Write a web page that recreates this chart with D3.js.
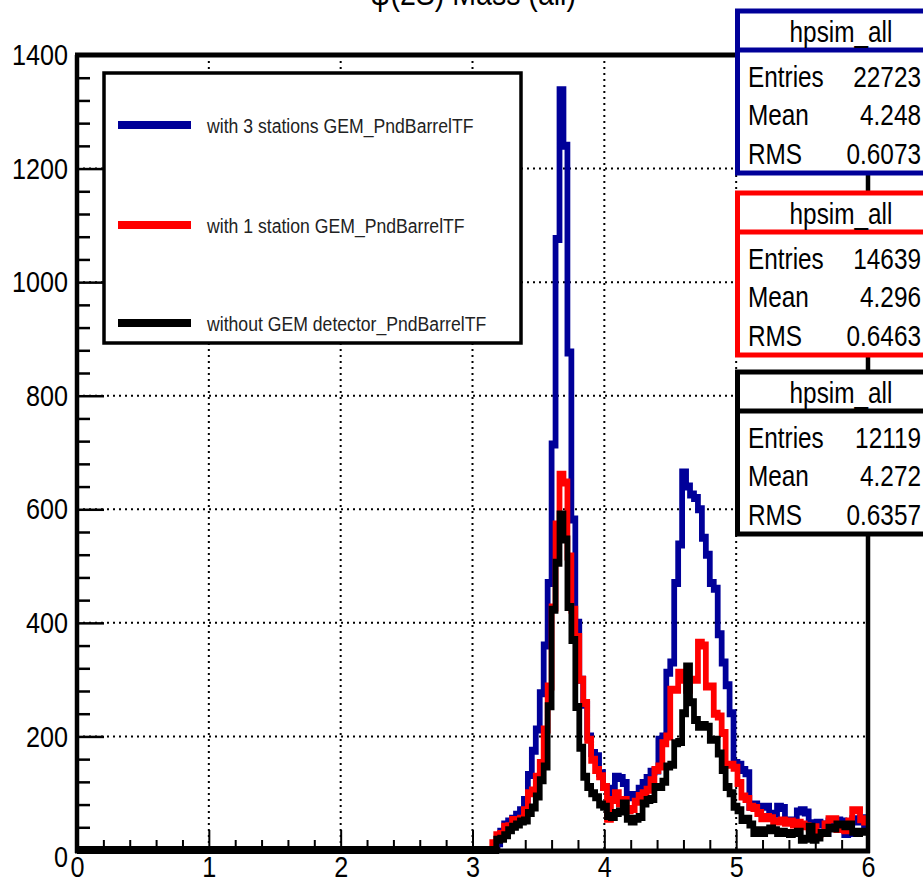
<!DOCTYPE html>
<html>
<head>
<meta charset="utf-8">
<script src="https://cdn.jsdelivr.net/npm/d3@7"></script>
<style>
  body { margin: 0; background: #ffffff; }
  svg { display: block; font-family: "Liberation Sans", Arial, sans-serif; }
</style>
</head>
<body>
<svg id="svgMass"></svg>
<script>
/////////////////////////////////////////////////////////////////////////////////////////

var WIDTH = 923, HEIGHT = 886;
var FRAME_LEFT = 77, FRAME_RIGHT = 868, FRAME_TOP = 55, FRAME_BOTTOM = 850;
var TEXT_SX = 0.84;   // the picture is squeezed sideways, so are the glyphs
var HIST_SX = 0.72;   // vertical strokes thinner than horizontal ones

// DATA /////////////////////////////////////////////////////////////////////////////////

var binWidth = 0.03;
var firstBinLow = 3.15;   // every bin below this is empty
var xTicks = [0, 1, 2, 3, 4, 5, 6];
var yTicks = [0, 200, 400, 600, 800, 1000, 1200, 1400];

// bins from 3.15 to 5.97, width 0.03
var blueCounts = [
  0, 12, 32, 45, 50, 55, 62, 70, 88, 132, 175, 212, 276, 360, 470,
  714, 1076, 1338, 1240, 876, 582, 400, 300, 256, 200,
  171, 165, 135, 111, 108, 100, 129, 127, 118, 93,
  97, 95, 108, 118, 127, 138, 140, 194, 200, 312,
  330, 470, 538, 665, 640, 626, 620, 600, 550, 520,
  470, 460, 380, 330, 290, 241, 153, 150, 141, 135,
  76, 80, 74, 76, 76, 62, 64, 76, 74, 50,
  52, 48, 68, 70, 66, 47, 45, 48, 45, 30,
  50, 48, 52, 50, 28, 30, 54, 50, 56, 45
];
var redCounts = [
  12, 26, 28, 41, 42, 53, 53, 55, 70, 100, 105, 129, 153, 212, 288,
  427, 573, 661, 647, 517, 423, 375, 300, 259, 194,
  159, 141, 130, 111, 55, 88, 100, 82, 88, 70,
  72, 85, 95, 100, 106, 123, 141, 147, 188, 200,
  282, 282, 312, 300, 282, 300, 300, 365, 360, 288,
  288, 240, 235, 206, 150, 150, 145, 118, 94, 90,
  76, 74, 65, 56, 58, 56, 50, 50, 52, 48,
  50, 45, 48, 45, 42, 39, 40, 28, 30, 45,
  54, 54, 37, 38, 35, 50, 70, 70, 54, 50
];
var blackCounts = [
  0, 18, 20, 26, 35, 41, 45, 50, 52, 65, 75, 94, 123, 147, 253,
  423, 506, 591, 547, 428, 370, 252, 180, 129, 111,
  100, 93, 80, 76, 60, 58, 65, 68, 82, 55,
  50, 55, 58, 82, 88, 90, 111, 111, 120, 147,
  150, 188, 190, 241, 323, 260, 229, 217, 220, 217,
  194, 194, 170, 141, 111, 100, 76, 70, 53, 55,
  45, 30, 35, 30, 35, 38, 35, 30, 32, 30,
  28, 30, 32, 18, 20, 41, 18, 22, 30, 30,
  39, 38, 45, 45, 42, 45, 32, 30, 32, 32
];

var seriesColours = ["#000099", "#ff0000", "#000000"];
var legendLabels = ["with 3 stations GEM_PndBarrelTF", "with 1 station GEM_PndBarrelTF", "without GEM detector_PndBarrelTF"];
var statsName = "hpsim_all";
var statsEntries = ["22723", "14639", "12119"];
var statsMean = ["4.248", "4.296", "4.272"];
var statsRms = ["0.6073", "0.6463", "0.6357"];
var titleText = "\u03c8(2S) Mass (all)";

// SETUP ////////////////////////////////////////////////////////////////////////////////

var svg = d3.select('#svgMass')
    .attr('width', WIDTH)
    .attr('height', HEIGHT);

var x = d3.scaleLinear().domain([0, 6]).range([FRAME_LEFT, FRAME_RIGHT]);
var y = d3.scaleLinear().domain([0, 1400]).range([FRAME_BOTTOM, FRAME_TOP]);

// text drawn narrower than the font, like the stretched original
function squeezedText(parent, tx, ty, str, size, anchor) {
    return parent.append('text')
        .attr('transform', 'translate(' + tx + ',' + ty + ') scale(' + TEXT_SX + ',1)')
        .attr('text-anchor', anchor || 'start')
        .attr('font-size', size)
        .attr('fill', '#000')
        .text(str);
}

// GRID /////////////////////////////////////////////////////////////////////////////////

var grid = svg.append('g')
    .attr('stroke', '#000')
    .attr('stroke-width', 2)
    .attr('stroke-dasharray', '2,4');

grid.selectAll('line.h')
    .data(yTicks.slice(1, -1))
    .enter().append('line')
    .attr('x1', FRAME_LEFT).attr('x2', FRAME_RIGHT)
    .attr('y1', function (d) { return y(d); })
    .attr('y2', function (d) { return y(d); });

grid.selectAll('line.v')
    .data(xTicks.slice(1, -1))
    .enter().append('line')
    .attr('y1', FRAME_TOP).attr('y2', FRAME_BOTTOM)
    .attr('x1', function (d) { return x(d); })
    .attr('x2', function (d) { return x(d); });

// AXES /////////////////////////////////////////////////////////////////////////////////

var yMinor = d3.range(0, 1400, 40).filter(function (d) { return d % 200 !== 0; });
var xMinor = d3.range(0, 30).map(function (d) { return d * 0.2; }).filter(function (d, i) { return i % 5 !== 0; });

svg.append('g')
    .attr('transform', 'translate(' + FRAME_LEFT + ',0)')
    .call(d3.axisLeft(y).tickValues(yMinor).tickSize(-13).tickFormat(''))
    .call(function (g) { g.select('.domain').remove(); g.selectAll('line').attr('stroke-width', 2.5); });

var yAxis = svg.append('g')
    .attr('transform', 'translate(' + FRAME_LEFT + ',0)')
    .call(d3.axisLeft(y).tickValues(yTicks).tickSize(-27).tickPadding(9).tickFormat(d3.format('d')))
    .call(function (g) { g.select('.domain').remove(); g.selectAll('line').attr('stroke-width', 2.5); });
yAxis.attr('font-family', null);
yAxis.selectAll('text')
    .attr('font-size', 30)
    .attr('fill', '#000')
    .attr('x', -9 / TEXT_SX)
    .attr('transform', 'scale(' + TEXT_SX + ',1)');
// the zero label sits a little low, as in the original
yAxis.selectAll('text').filter(function (d) { return d === 0; }).attr('dy', '0.55em');

svg.append('g')
    .attr('transform', 'translate(0,' + FRAME_BOTTOM + ')')
    .call(d3.axisBottom(x).tickValues(xMinor).tickSize(-10).tickFormat(''))
    .call(function (g) { g.select('.domain').remove(); g.selectAll('line').attr('stroke-width', 2); });

var xAxis = svg.append('g')
    .attr('transform', 'translate(0,' + FRAME_BOTTOM + ')')
    .call(d3.axisBottom(x).tickValues(xTicks).tickSize(-20).tickPadding(6).tickFormat(d3.format('d')))
    .call(function (g) { g.select('.domain').remove(); g.selectAll('line').attr('stroke-width', 2); });
xAxis.attr('font-family', null);
xAxis.selectAll('text')
    .attr('font-size', 30)
    .attr('fill', '#000')
    .attr('transform', 'scale(' + TEXT_SX + ',1)');

// HISTOGRAMS ///////////////////////////////////////////////////////////////////////////

function binPoints(counts) {
    var pts = [{ u: 0, v: 0 }];
    counts.forEach(function (c, i) { pts.push({ u: firstBinLow + i * binWidth, v: c }); });
    pts.push({ u: 6, v: counts[counts.length - 1] });
    return pts;
}

var step = d3.line()
    .curve(d3.curveStepAfter)
    .x(function (d) { return x(d.u) / HIST_SX; })
    .y(function (d) { return y(d.v); });

var histG = svg.append('g')
    .attr('transform', 'scale(' + HIST_SX + ',1)');

[blueCounts, redCounts, blackCounts].forEach(function (counts, i) {
    histG.append('path')
        .attr('d', step(binPoints(counts)))
        .attr('fill', 'none')
        .attr('stroke', seriesColours[i])
        .attr('stroke-width', 8)
        .attr('stroke-linejoin', 'miter');
});

// FRAME ////////////////////////////////////////////////////////////////////////////////

var frame = svg.append('g').attr('stroke', '#000');
frame.append('line').attr('x1', FRAME_LEFT - 2).attr('x2', FRAME_RIGHT + 2).attr('y1', FRAME_TOP).attr('y2', FRAME_TOP).attr('stroke-width', 5);
frame.append('line').attr('x1', FRAME_LEFT - 2).attr('x2', FRAME_RIGHT + 2).attr('y1', FRAME_BOTTOM + 1).attr('y2', FRAME_BOTTOM + 1).attr('stroke-width', 5);
frame.append('line').attr('x1', FRAME_LEFT).attr('x2', FRAME_LEFT).attr('y1', FRAME_TOP).attr('y2', FRAME_BOTTOM + 3).attr('stroke-width', 4.5);
frame.append('line').attr('x1', FRAME_RIGHT).attr('x2', FRAME_RIGHT).attr('y1', FRAME_TOP).attr('y2', FRAME_BOTTOM + 3).attr('stroke-width', 4.5);

// TITLE ////////////////////////////////////////////////////////////////////////////////

squeezedText(svg, 473, 5, titleText, 34, 'middle');

// LEGEND ///////////////////////////////////////////////////////////////////////////////

var legend = svg.append('g');
legend.append('rect')
    .attr('x', 104).attr('y', 73)
    .attr('width', 417).attr('height', 270)
    .attr('fill', '#fff')
    .attr('stroke', '#000')
    .attr('stroke-width', 3.5);

var legendRows = [125, 225, 323];
legendLabels.forEach(function (label, i) {
    legend.append('line')
        .attr('x1', 118).attr('x2', 191)
        .attr('y1', legendRows[i]).attr('y2', legendRows[i])
        .attr('stroke', seriesColours[i])
        .attr('stroke-width', 8);
    squeezedText(legend, 207, legendRows[i] + 8, label, 21).attr('fill', '#222');
});

// STATS BOXES //////////////////////////////////////////////////////////////////////////

var boxTops = [11, 193, 372];
boxTops.forEach(function (top, i) {
    var box = svg.append('g');
    box.append('rect')
        .attr('x', 737.5).attr('y', top)
        .attr('width', 260).attr('height', 162)
        .attr('fill', '#fff')
        .attr('stroke', seriesColours[i])
        .attr('stroke-width', 5);
    box.append('line')
        .attr('x1', 737.5).attr('x2', 1000)
        .attr('y1', top + 39).attr('y2', top + 39)
        .attr('stroke', seriesColours[i])
        .attr('stroke-width', 5);
    squeezedText(box, 841, top + 31, statsName, 29, 'middle');
    squeezedText(box, 748, top + 76, 'Entries', 29);
    squeezedText(box, 748, top + 114, 'Mean', 29);
    squeezedText(box, 748, top + 153, 'RMS', 29);
    squeezedText(box, 921, top + 76, statsEntries[i], 29, 'end');
    squeezedText(box, 921, top + 114, statsMean[i], 29, 'end');
    squeezedText(box, 921, top + 153, statsRms[i], 29, 'end');
});
</script>
</body>
</html>
